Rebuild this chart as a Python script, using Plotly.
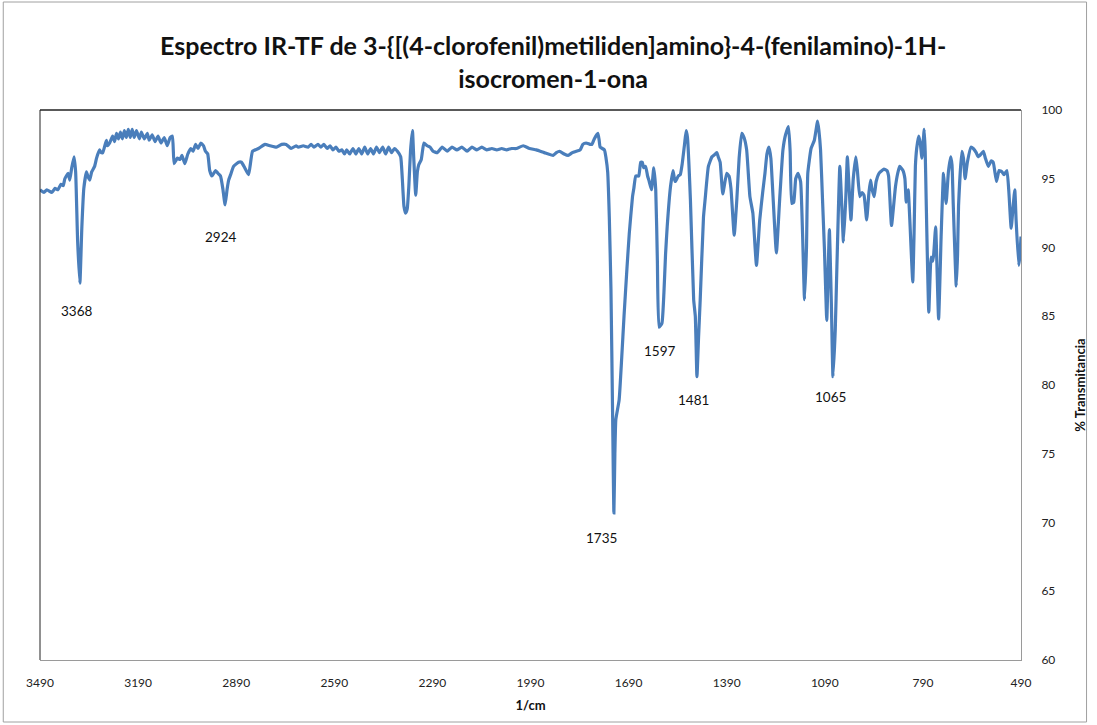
import plotly.graph_objects as go

# FT-IR spectrum: wavenumber (1/cm) and % transmittance
wavenumber = [
    3490, 3478, 3469, 3454, 3444, 3435, 3426, 3419, 3414, 3404, 3399, 3393, 3386, 3381, 3375, 3368,
    3362, 3356, 3348, 3344, 3338, 3332, 3323, 3317, 3308, 3303, 3298, 3287, 3284, 3277, 3268, 3262,
    3256, 3250, 3244, 3238, 3232, 3226, 3220, 3214, 3208, 3202, 3195, 3186, 3180, 3171, 3162, 3156,
    3147, 3138, 3129, 3120, 3110, 3101, 3092, 3085, 3080, 3070, 3062, 3056, 3047, 3038, 3029, 3022,
    3014, 3007, 2998, 2990, 2984, 2977, 2971, 2964, 2953, 2946, 2938, 2931, 2924, 2918, 2913, 2907,
    2898, 2883, 2874, 2864, 2852, 2840, 2822, 2802, 2786, 2767, 2751, 2737, 2722, 2707, 2700, 2685,
    2670, 2661, 2652, 2640, 2631, 2622, 2612, 2603, 2594, 2585, 2576, 2567, 2559, 2552, 2543, 2533,
    2524, 2515, 2506, 2497, 2488, 2479, 2470, 2461, 2452, 2442, 2433, 2424, 2415, 2406, 2397, 2387,
    2382, 2377, 2372, 2367, 2362, 2357, 2351, 2347, 2341, 2336, 2332, 2324, 2316, 2306, 2297, 2288,
    2275, 2260, 2245, 2230, 2215, 2200, 2184, 2169, 2154, 2139, 2124, 2108, 2093, 2078, 2063, 2048,
    2033, 2012, 1993, 1972, 1948, 1921, 1911, 1901, 1887, 1875, 1862, 1850, 1838, 1830, 1820, 1808,
    1802, 1795, 1784, 1780, 1777, 1764, 1759, 1754, 1749, 1744, 1739, 1735, 1732, 1729, 1719, 1711,
    1704, 1695, 1688, 1678, 1674, 1668, 1659, 1653, 1648, 1644, 1638, 1632, 1628, 1620, 1613, 1607,
    1602, 1597, 1588, 1582, 1577, 1572, 1562, 1554, 1550, 1547, 1538, 1532, 1526, 1519, 1514, 1510,
    1501, 1491, 1486, 1481, 1476, 1471, 1461, 1456, 1446, 1435, 1425, 1420, 1416, 1410, 1402, 1390,
    1383, 1377, 1367, 1359, 1352, 1344, 1337, 1329, 1319, 1310, 1299, 1289, 1280, 1273, 1267, 1261,
    1255, 1249, 1238, 1228, 1218, 1210, 1201, 1196, 1191, 1185, 1179, 1172, 1164, 1158, 1152, 1146,
    1142, 1132, 1122, 1112, 1108, 1103, 1097, 1091, 1084, 1081, 1076, 1070, 1065, 1058, 1053, 1044,
    1038, 1033, 1026, 1021, 1015, 1010, 1003, 995, 990, 983, 976, 970, 962, 955, 950, 946,
    939, 933, 924, 915, 909, 900, 895, 886, 874, 867, 861, 851, 845, 841, 835, 830,
    821, 817, 813, 809, 803, 798, 793, 786, 783, 780, 772, 765, 760, 757, 751, 742,
    734, 727, 724, 719, 712, 705, 701, 697, 688, 684, 681, 671, 666, 661, 654, 643,
    636, 627, 621, 612, 605, 599, 590, 581, 575, 565, 557, 548, 542, 533, 527, 520,
    514, 509, 505, 497, 493, 490,
]

transmittance = [
    94.2, 94.0, 94.2, 94.0, 94.3, 94.2, 94.6, 94.5, 95.0, 95.4, 94.9, 95.8, 96.6, 95.5, 90.5, 87.4,
    91.5, 94.3, 95.5, 95.2, 94.9, 95.5, 95.9, 96.5, 97.1, 96.9, 96.9, 97.8, 97.4, 97.6, 98.1, 97.7,
    98.3, 97.9, 98.4, 97.9, 98.5, 98.0, 98.6, 98.0, 98.6, 98.0, 98.5, 97.9, 98.4, 97.9, 98.3, 97.8,
    98.2, 97.7, 98.1, 97.6, 98.0, 97.4, 98.0, 98.1, 96.1, 96.5, 96.4, 96.7, 96.1, 96.8, 97.2, 97.0,
    97.5, 97.2, 97.6, 97.4, 97.0, 96.8, 95.6, 95.2, 95.6, 95.4, 95.2, 94.3, 93.1, 94.2, 94.9, 95.3,
    95.9, 96.2, 96.2, 95.8, 95.3, 97.0, 97.2, 97.5, 97.4, 97.3, 97.5, 97.5, 97.2, 97.4, 97.3, 97.4,
    97.3, 97.5, 97.3, 97.5, 97.3, 97.5, 97.2, 97.4, 97.1, 97.3, 97.0, 97.1, 96.8, 97.1, 96.8, 97.2,
    96.8, 97.2, 96.8, 97.3, 96.8, 97.2, 96.8, 97.3, 96.9, 97.3, 96.8, 97.3, 96.9, 97.2, 97.0, 96.6,
    95.0, 93.0, 92.5, 92.8, 94.5, 97.0, 98.5, 96.5, 93.8, 95.5, 96.0, 96.4, 97.6, 97.4, 97.3, 97.0,
    96.9, 97.3, 97.0, 97.3, 97.1, 97.3, 97.0, 97.3, 97.1, 97.3, 97.1, 97.2, 97.1, 97.2, 97.1, 97.2,
    97.2, 97.4, 97.2, 97.1, 96.9, 96.7, 96.9, 97.0, 96.8, 96.7, 96.9, 97.0, 97.1, 97.5, 97.6, 97.5,
    97.5, 97.9, 98.3, 97.8, 97.3, 97.1, 96.5, 95.5, 92.2, 87.0, 78.0, 70.7, 75.0, 77.5, 78.9, 82.0,
    85.0, 88.5, 91.0, 93.7, 94.3, 95.2, 95.2, 96.2, 96.2, 95.8, 95.9, 95.2, 94.9, 94.2, 95.8, 94.2,
    89.0, 84.2, 84.5, 86.7, 89.5, 91.5, 94.4, 95.6, 95.0, 94.8, 95.2, 95.3, 96.1, 97.5, 98.5, 98.0,
    93.5, 86.2, 85.0, 80.6, 83.5, 86.2, 92.2, 93.5, 95.9, 96.6, 96.8, 96.9, 96.6, 96.2, 93.9, 95.4,
    95.2, 94.3, 90.9, 93.5, 96.5, 98.3, 98.0, 97.1, 93.7, 92.5, 88.7, 92.0, 94.0, 95.4, 96.8, 97.3,
    96.5, 94.0, 89.6, 93.5, 97.1, 98.2, 98.8, 97.0, 93.2, 93.3, 95.0, 95.4, 94.8, 91.0, 86.2, 90.0,
    95.4, 97.2, 97.8, 99.2, 98.5, 97.1, 93.5, 89.8, 84.7, 87.0, 91.3, 86.0, 80.6, 84.0, 88.6, 95.9,
    93.0, 90.4, 93.5, 96.6, 94.0, 92.0, 95.0, 96.6, 95.5, 93.7, 94.0, 93.8, 92.0, 94.0, 94.9, 94.3,
    93.7, 94.8, 95.4, 95.6, 95.7, 95.6, 95.2, 91.6, 94.4, 95.4, 95.9, 95.6, 95.0, 93.3, 94.2, 92.0,
    87.5, 91.0, 95.9, 97.2, 98.1, 97.6, 96.5, 98.6, 97.0, 93.5, 85.3, 89.3, 89.0, 89.5, 91.5, 84.8,
    91.0, 95.4, 94.5, 93.2, 95.5, 96.6, 96.0, 93.0, 87.2, 89.5, 93.0, 97.0, 96.5, 95.0, 96.2, 97.3,
    97.2, 96.9, 96.6, 96.8, 97.0, 96.5, 95.9, 96.3, 96.2, 94.8, 95.6, 95.5, 95.3, 95.6, 94.0, 91.4,
    93.0, 94.2, 92.0, 88.7, 89.5, 90.8,
]

# Labelled absorption bands and where their labels sit
peak_labels = ["3368", "2924", "1735", "1597", "1481", "1065"]
label_x = [3378, 2939, 1772, 1596, 1492, 1074]
label_y = [85.4, 90.8, 68.9, 82.5, 78.9, 79.1]

x_ticks = [3490, 3190, 2890, 2590, 2290, 1990, 1690, 1390, 1090, 790, 490]
y_ticks = [60, 65, 70, 75, 80, 85, 90, 95, 100]

title_text = ("<b>Espectro IR-TF de 3-{[(4-clorofenil)metiliden]amino}-4-(fenilamino)-1H-"
              "<br>isocromen-1-ona</b>")

FONT = "Lato, 'Open Sans', sans-serif"

fig = go.Figure()
fig.add_trace(go.Scatter(
    x=wavenumber, y=transmittance, mode="lines",
    line=dict(color="#4a7ebb", width=3.2, shape="spline", smoothing=0.4),
    hoverinfo="x+y", showlegend=False,
))

for txt, lx, ly in zip(peak_labels, label_x, label_y):
    fig.add_annotation(x=lx, y=ly, text=txt, showarrow=False,
                       font=dict(family=FONT, size=13.5, color="#111"))

# chart title, two centred lines above the plot area
fig.add_annotation(
    xref="paper", yref="paper", x=0.523, y=1.089,
    xanchor="center", yanchor="middle", showarrow=False,
    text=title_text,
    font=dict(family=FONT, size=25, color="#111"),
)

fig.update_layout(
    width=1097, height=725,
    margin=dict(l=40, r=69, t=110, b=65),
    paper_bgcolor="white", plot_bgcolor="white",
    xaxis=dict(
        range=[3490, 490], tickvals=x_ticks, ticktext=[str(v) for v in x_ticks],
        showgrid=False, zeroline=False, ticks="", showline=True,
        linecolor="#9a9a9a", linewidth=1, mirror=False,
        ticklabelstandoff=12,
        tickfont=dict(family=FONT, size=12, color="#222"),
        title=dict(text="<b>1/cm</b>", font=dict(family=FONT, size=13, color="#111"), standoff=11),
    ),
    yaxis=dict(
        range=[60, 100], side="right", tickvals=y_ticks,
        showgrid=False, zeroline=False, ticks="", showline=True,
        linecolor="#9a9a9a", linewidth=1,
        ticklabelstandoff=17,
        tickfont=dict(family=FONT, size=12, color="#222"),
        title=dict(text="<b>% Transmitancia</b>", font=dict(family=FONT, size=13, color="#111"), standoff=14),
    ),
    shapes=[
        # plot area frame: dark top and left edges
        dict(type="line", xref="paper", yref="paper", x0=0, x1=1, y0=1, y1=1,
             line=dict(color="#222", width=1.5)),
        dict(type="line", xref="paper", yref="paper", x0=0, x1=0, y0=0, y1=1,
             line=dict(color="#222", width=1)),
        # outer chart border
        dict(type="rect", xref="paper", yref="paper",
             x0=-37 / 988, x1=1 + 66 / 988, y0=-62 / 550, y1=1 + 108 / 550,
             line=dict(color="#a0a0a0", width=1), layer="below"),
    ],
)

fig.write_html("out.html")
